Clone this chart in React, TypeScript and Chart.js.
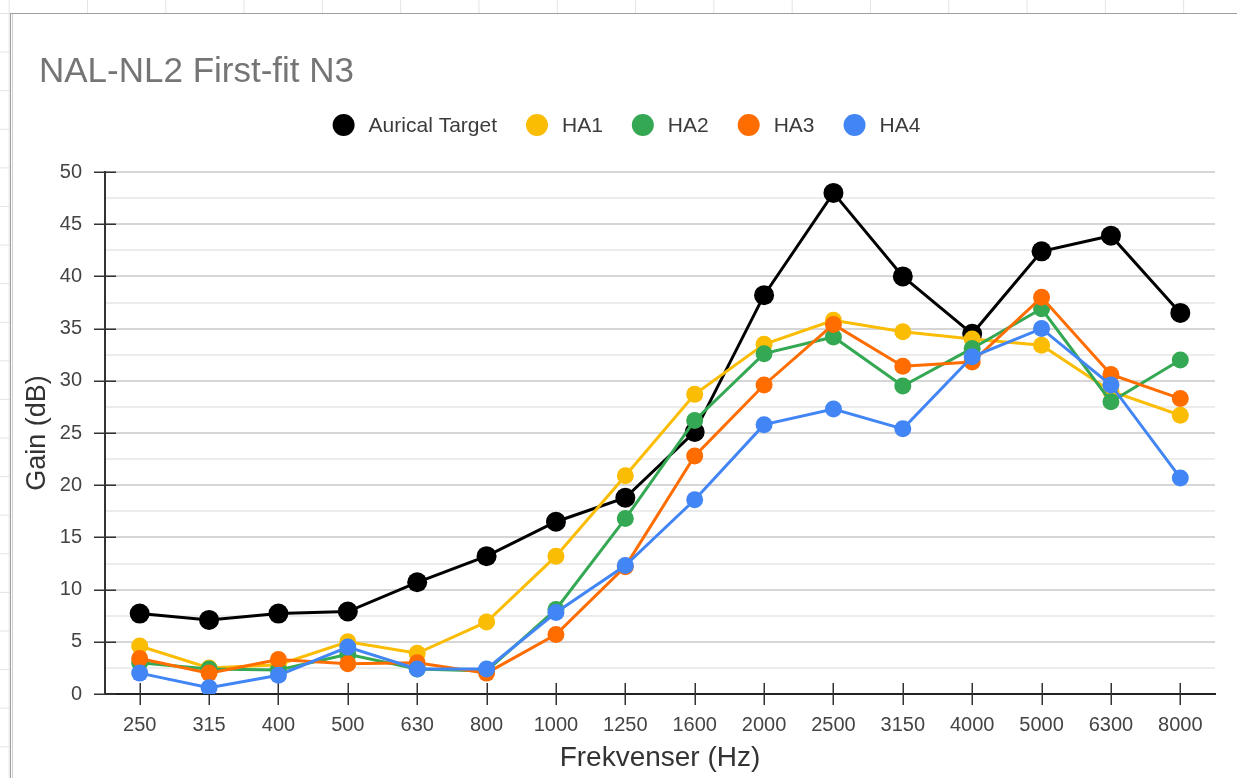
import React, { useEffect, useRef } from 'react';
import { Chart, registerables } from 'chart.js';

Chart.register(...registerables);

const TITLE = 'NAL-NL2 First-fit N3';
const X_TITLE = 'Frekvenser (Hz)';
const Y_TITLE = 'Gain (dB)';

const frequencies = ['250', '315', '400', '500', '630', '800', '1000', '1250', '1600', '2000', '2500', '3150', '4000', '5000', '6300', '8000'];

const auricalTarget = [7.7, 7.1, 7.7, 7.9, 10.7, 13.2, 16.5, 18.8, 25.1, 38.2, 48.0, 40.0, 34.5, 42.4, 43.9, 36.5];
const ha1 = [4.6, 2.5, 2.8, 5.0, 3.9, 6.9, 13.2, 20.9, 28.7, 33.5, 35.8, 34.7, 34.0, 33.4, 29.0, 26.7];
const ha2 = [3.0, 2.4, 2.3, 3.8, 2.4, 2.2, 8.1, 16.8, 26.2, 32.6, 34.2, 29.5, 33.1, 36.9, 28.0, 32.0];
const ha3 = [3.4, 2.0, 3.3, 2.9, 3.0, 2.0, 5.7, 12.2, 22.8, 29.6, 35.4, 31.4, 31.8, 38.0, 30.6, 28.3];
const ha4 = [2.0, 0.6, 1.8, 4.5, 2.4, 2.4, 7.8, 12.3, 18.6, 25.8, 27.3, 25.4, 32.3, 35.0, 29.6, 20.7];

const seriesLabels = ['Aurical Target', 'HA1', 'HA2', 'HA3', 'HA4'];
const seriesColors = ['#000000', '#fbbc04', '#34a853', '#ff6d01', '#4285f4'];
const seriesValues = [auricalTarget, ha1, ha2, ha3, ha4];

const yMajorTicks = [0, 5, 10, 15, 20, 25, 30, 35, 40, 45, 50];

const FONT = '"Liberation Sans", Arial, Helvetica, sans-serif';

const headerPlugin = {
  id: 'headerPlugin',
  afterDraw(chart: any) {
    const ctx = chart.ctx as CanvasRenderingContext2D;
    ctx.save();
    ctx.font = `35px ${FONT}`;
    ctx.fillStyle = '#757575';
    ctx.textAlign = 'left';
    ctx.textBaseline = 'alphabetic';
    ctx.fillText(TITLE, 39, 82);

    ctx.font = `21px ${FONT}`;
    const r = 11;
    const gapText = 25;
    const gapItem = 40;
    const items = chart.data.datasets.map((ds: any) => ({
      label: ds.label as string,
      color: ds.borderColor as string,
      w: ctx.measureText(ds.label).width,
    }));
    let total = r;
    items.forEach((it: any, i: number) => {
      total += gapText + it.w;
      if (i < items.length - 1) total += gapItem;
    });
    const centerX = 626.5;
    let cx = centerX - total / 2 + r;
    const cy = 125;
    items.forEach((it: any) => {
      ctx.beginPath();
      ctx.fillStyle = it.color;
      ctx.arc(cx, cy, r, 0, Math.PI * 2);
      ctx.fill();
      ctx.fillStyle = '#3c3c3c';
      ctx.textBaseline = 'alphabetic';
      ctx.fillText(it.label, cx + gapText, 132);
      cx += gapText + it.w + gapItem;
    });
    ctx.restore();
  },
};

const axisTicksPlugin = {
  id: 'axisTicksPlugin',
  beforeDatasetsDraw(chart: any) {
    const ctx = chart.ctx as CanvasRenderingContext2D;
    const xs = chart.scales.x;
    const ys = chart.scales.y;
    const area = chart.chartArea;
    ctx.save();
    ctx.strokeStyle = '#333333';
    ctx.lineWidth = 1.5;
    ctx.beginPath();
    yMajorTicks.forEach((v) => {
      const py = Math.round(ys.getPixelForValue(v)) + 0.25;
      ctx.moveTo(area.left - 11, py);
      ctx.lineTo(area.left + 11, py);
    });
    frequencies.forEach((_, i) => {
      const px = Math.round(xs.getPixelForValue(i)) + 0.25;
      ctx.moveTo(px, area.bottom - 11);
      ctx.lineTo(px, area.bottom + 11);
    });
    ctx.stroke();
    ctx.restore();
  },
};

export default function App() {
  const canvasRef = useRef<HTMLCanvasElement | null>(null);

  useEffect(() => {
    const canvas = canvasRef.current;
    if (!canvas) return;
    const datasets = seriesLabels.map((label, i) => ({
      label,
      data: seriesValues[i],
      borderColor: seriesColors[i],
      backgroundColor: seriesColors[i],
      pointBackgroundColor: seriesColors[i],
      pointBorderColor: seriesColors[i],
      pointBorderWidth: 0,
      pointRadius: i === 0 ? 10 : 8.5,
      borderWidth: 3,
      tension: 0,
      fill: false,
      order: seriesLabels.length - 1 - i,
    }));

    const chart = new Chart(canvas, {
      type: 'line',
      data: { labels: frequencies, datasets },
      options: {
        responsive: false,
        animation: false,
        devicePixelRatio: 1,
        events: [],
        layout: { padding: { left: 21, right: 22, top: 172, bottom: 0 } },
        plugins: {
          legend: { display: false },
          title: { display: false },
          tooltip: { enabled: false },
        },
        scales: {
          x: {
            type: 'category',
            offset: true,
            grid: { display: false, drawTicks: false },
            border: { display: true, color: '#222222', width: 2 },
            ticks: {
              color: '#444444',
              font: { family: FONT, size: 20 },
              padding: 19,
              autoSkip: false,
              maxRotation: 0,
              minRotation: 0,
            },
            title: {
              display: true,
              text: X_TITLE,
              color: '#333333',
              font: { family: FONT, size: 28 },
              padding: { top: 0, bottom: 3 },
            },
            afterFit: (scale: any) => {
              scale.height = 84;
            },
          },
          y: {
            type: 'linear',
            min: 0,
            max: 50,
            grid: {
              drawTicks: false,
              color: (c: any) => (c.tick && c.tick.value % 5 === 0 ? '#d6d6d6' : '#ececec'),
              lineWidth: 2,
            },
            border: { display: true, color: '#333333', width: 2 },
            ticks: {
              stepSize: 2.5,
              autoSkip: false,
              color: '#444444',
              font: { family: FONT, size: 20 },
              padding: 23,
              callback: (v: any) => (Number(v) % 5 === 0 ? String(v) : ''),
            },
            title: {
              display: true,
              text: Y_TITLE,
              color: '#333333',
              font: { family: FONT, size: 27 },
              padding: { top: 0, bottom: 0 },
            },
            afterFit: (scale: any) => {
              scale.width = 84;
            },
          },
        },
      },
      plugins: [axisTicksPlugin, headerPlugin],
    } as any);

    return () => {
      chart.destroy();
    };
  }, []);

  return (
    <div
      style={{
        position: 'absolute',
        left: 0,
        top: 0,
        width: 1237,
        height: 778,
        overflow: 'hidden',
        backgroundColor: '#ffffff',
        backgroundImage:
          'linear-gradient(to right, #e3e3e3 1px, transparent 1px), linear-gradient(to bottom, #e3e3e3 1px, transparent 1px)',
        backgroundSize: '78.3px 100%, 100% 38.6px',
        backgroundPosition: '8.7px 0, 0 13px',
      }}
    >
      <div
        style={{
          position: 'absolute',
          left: 10,
          top: 13,
          width: 1240,
          height: 800,
          background: '#ffffff',
          borderLeft: '1px solid #9e9e9e',
          borderTop: '1px solid #9e9e9e',
          boxShadow: 'inset 1px 0 0 #ffffff, inset 2px 0 0 #cfcfcf',
        }}
      />
      <canvas
        ref={canvasRef}
        width={1237}
        height={778}
        style={{ position: 'absolute', left: 0, top: 0, width: 1237, height: 778 }}
      />
    </div>
  );
}
